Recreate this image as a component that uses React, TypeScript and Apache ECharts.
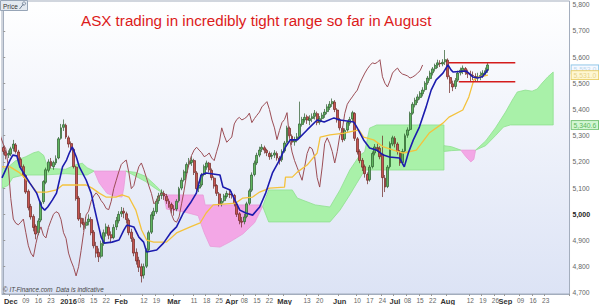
import React, { useEffect, useRef } from "react";
import * as echarts from "echarts";

const TITLE = "ASX trading in incredibly tight range so far in August";
const COPYRIGHT = "© IT-Finance.com  Data is indicative";
const PANEL_LABEL = "Price";

const FIRST_DAY = "2015-11-26";
const DAY_COUNT = 226;

// [date, label, isMonth]
const X_LABELS: [string, string, boolean][] = [
  ["2015-12-01", "Dec", true], ["2015-12-09", "09", false], ["2015-12-16", "16", false], ["2015-12-23", "23", false],
  ["2016-01-01", "2016", true], ["2016-01-08", "08", false], ["2016-01-15", "15", false], ["2016-01-22", "22", false],
  ["2016-02-01", "Feb", true], ["2016-02-12", "12", false], ["2016-02-19", "19", false],
  ["2016-03-01", "Mar", true], ["2016-03-11", "11", false], ["2016-03-18", "18", false], ["2016-03-25", "25", false],
  ["2016-04-01", "Apr", true], ["2016-04-08", "08", false], ["2016-04-15", "15", false], ["2016-04-22", "22", false],
  ["2016-05-02", "May", true], ["2016-05-13", "13", false], ["2016-05-20", "20", false],
  ["2016-06-01", "Jun", true], ["2016-06-10", "10", false], ["2016-06-17", "17", false], ["2016-06-24", "24", false],
  ["2016-07-01", "Jul", true], ["2016-07-08", "08", false], ["2016-07-15", "15", false], ["2016-07-22", "22", false],
  ["2016-08-01", "Aug", true], ["2016-08-12", "12", false], ["2016-08-19", "19", false], ["2016-08-26", "26", false],
  ["2016-09-01", "Sep", true], ["2016-09-09", "09", false], ["2016-09-16", "16", false], ["2016-09-23", "23", false],
];

const Y_TICKS = [4700, 4800, 4900, 5000, 5100, 5200, 5300, 5400, 5500, 5600, 5700, 5800];

// daily candles: [open, close, low, high]
const OHLC: number[][] = [
  [5255, 5240, 5228, 5262], [5238, 5225, 5210, 5245], [5226, 5232, 5215, 5244], [5230, 5250, 5222, 5258], [5252, 5268, 5240, 5284],
  [5265, 5240, 5232, 5272], [5238, 5212, 5200, 5246], [5210, 5180, 5172, 5218], [5182, 5150, 5140, 5190], [5148, 5085, 5078, 5152],
  [5088, 5025, 5015, 5095], [5030, 4990, 4980, 5040], [4992, 4950, 4935, 5000], [4955, 4925, 4905, 4962], [4930, 4975, 4920, 4985],
  [4978, 5045, 4970, 5052], [5048, 5125, 5040, 5130], [5122, 5170, 5115, 5178], [5168, 5200, 5160, 5210], [5202, 5185, 5175, 5215],
  [5182, 5198, 5170, 5205], [5196, 5212, 5188, 5225], [5215, 5288, 5210, 5295], [5290, 5330, 5285, 5345], [5332, 5342, 5318, 5362],
  [5340, 5295, 5288, 5346], [5292, 5268, 5255, 5300], [5270, 5250, 5240, 5278], [5248, 5182, 5175, 5252], [5180, 5060, 5052, 5185],
  [5062, 4982, 4975, 5070], [4985, 4966, 4950, 5005], [4968, 4960, 4940, 4985], [4958, 4970, 4945, 4990], [4972, 4982, 4958, 5000],
  [4980, 4930, 4920, 4990], [4932, 4880, 4870, 4940], [4878, 4852, 4835, 4895], [4855, 4838, 4818, 4870], [4840, 4888, 4832, 4900],
  [4890, 4930, 4880, 4942], [4928, 4952, 4915, 4965], [4950, 4920, 4905, 4960], [4922, 4910, 4890, 4935], [4912, 4950, 4905, 4962],
  [4952, 4976, 4940, 4990], [4975, 5000, 4965, 5012], [5002, 5010, 4990, 5028], [5012, 5005, 4985, 5025], [5002, 4980, 4965, 5010],
  [4978, 4930, 4920, 4985], [4932, 4908, 4895, 4945], [4905, 4852, 4840, 4912], [4855, 4822, 4808, 4870], [4825, 4798, 4780, 4838],
  [4800, 4765, 4740, 4812], [4768, 4800, 4755, 4812], [4802, 4862, 4795, 4870], [4865, 4930, 4858, 4938], [4932, 4998, 4925, 5008],
  [4995, 5012, 4980, 5025], [5010, 5050, 5002, 5060], [5052, 5070, 5040, 5082], [5072, 5082, 5058, 5095], [5080, 5070, 5055, 5090],
  [5068, 5052, 5040, 5078], [5050, 5040, 5025, 5060], [5038, 5022, 5005, 5045], [5020, 5018, 4995, 5035], [5020, 5050, 5012, 5058],
  [5052, 5098, 5045, 5105], [5100, 5130, 5092, 5140], [5132, 5162, 5125, 5170], [5160, 5190, 5152, 5198], [5192, 5200, 5180, 5215],
  [5198, 5207, 5185, 5222], [5205, 5160, 5150, 5212], [5158, 5098, 5090, 5165], [5100, 5110, 5085, 5125], [5112, 5150, 5105, 5158],
  [5152, 5182, 5145, 5190], [5180, 5196, 5170, 5205], [5195, 5170, 5160, 5200], [5168, 5140, 5130, 5175], [5138, 5108, 5098, 5145],
  [5110, 5080, 5070, 5115], [5078, 5040, 5030, 5085], [5042, 5050, 5030, 5062], [5052, 5070, 5045, 5078], [5068, 5080, 5060, 5090],
  [5078, 5076, 5062, 5092], [5076, 5074, 5060, 5088], [5072, 5040, 5030, 5078], [5038, 5000, 4990, 5045], [5002, 4976, 4962, 5008],
  [4974, 4970, 4950, 4990], [4972, 4990, 4962, 5002], [4992, 5040, 4985, 5048], [5042, 5090, 5035, 5098], [5092, 5150, 5085, 5160],
  [5152, 5195, 5145, 5205], [5196, 5225, 5188, 5235], [5226, 5245, 5218, 5258], [5248, 5256, 5238, 5268], [5254, 5245, 5232, 5262],
  [5244, 5235, 5222, 5250], [5232, 5220, 5208, 5240], [5222, 5225, 5210, 5236], [5226, 5234, 5215, 5245], [5232, 5215, 5205, 5240],
  [5214, 5205, 5190, 5222], [5208, 5240, 5200, 5248], [5242, 5272, 5235, 5280], [5275, 5330, 5270, 5338], [5328, 5300, 5290, 5335],
  [5298, 5275, 5265, 5305], [5276, 5285, 5262, 5296], [5288, 5295, 5275, 5310], [5297, 5345, 5290, 5430], [5343, 5362, 5335, 5372],
  [5360, 5370, 5350, 5385], [5372, 5360, 5345, 5380], [5358, 5365, 5340, 5378], [5366, 5372, 5352, 5385], [5374, 5386, 5362, 5398],
  [5384, 5350, 5340, 5392], [5352, 5365, 5342, 5375], [5366, 5378, 5355, 5388], [5380, 5390, 5368, 5402], [5392, 5410, 5382, 5420],
  [5408, 5420, 5398, 5432], [5422, 5430, 5410, 5442], [5428, 5400, 5390, 5436], [5398, 5360, 5350, 5405], [5362, 5330, 5320, 5368],
  [5328, 5285, 5275, 5335], [5288, 5320, 5280, 5328], [5322, 5350, 5315, 5358], [5348, 5362, 5338, 5372], [5364, 5388, 5355, 5395],
  [5385, 5290, 5280, 5390], [5288, 5238, 5228, 5295], [5240, 5205, 5195, 5248], [5206, 5180, 5165, 5215], [5182, 5155, 5140, 5190],
  [5152, 5130, 5115, 5160], [5132, 5180, 5125, 5188], [5182, 5232, 5175, 5240], [5234, 5257, 5225, 5268], [5255, 5250, 5238, 5270],
  [5252, 5220, 5210, 5260], [5230, 5140, 5066, 5300], [5138, 5104, 5085, 5150], [5106, 5180, 5100, 5188], [5182, 5270, 5175, 5278],
  [5268, 5292, 5260, 5300], [5290, 5270, 5255, 5298], [5268, 5240, 5228, 5275], [5238, 5196, 5185, 5245], [5198, 5240, 5190, 5250],
  [5242, 5300, 5235, 5308], [5302, 5322, 5292, 5332], [5324, 5385, 5318, 5392], [5386, 5420, 5380, 5428], [5418, 5435, 5408, 5445],
  [5436, 5448, 5425, 5458], [5446, 5462, 5438, 5470], [5460, 5474, 5450, 5485], [5476, 5500, 5468, 5508], [5502, 5520, 5494, 5528],
  [5518, 5539, 5510, 5548], [5540, 5555, 5530, 5562], [5556, 5568, 5545, 5575], [5570, 5578, 5558, 5590], [5576, 5575, 5562, 5588],
  [5574, 5580, 5565, 5592], [5582, 5590, 5570, 5627], [5588, 5525, 5515, 5595], [5522, 5500, 5463, 5530], [5498, 5486, 5470, 5510],
  [5488, 5510, 5478, 5520], [5512, 5539, 5505, 5548], [5540, 5550, 5530, 5560], [5548, 5558, 5535, 5568], [5556, 5543, 5532, 5562],
  [5542, 5535, 5520, 5552], [5534, 5532, 5505, 5548], [5530, 5528, 5512, 5545], [5526, 5520, 5505, 5538], [5522, 5524, 5508, 5540],
  [5525, 5530, 5512, 5545], [5532, 5539, 5520, 5550], [5540, 5548, 5528, 5560], [5550, 5569.9, 5540, 5578],
];

// conversion line (9 period), [day index, value]
const TENKAN: number[][] = [
  [-0.5, 5139], [2.7, 5207], [3.8, 5226], [5.4, 5223], [6.6, 5181], [8.6, 5150], [10.6, 5119], [13.3, 5081], [15.3, 5028],
  [16.5, 5016], [17.7, 5028], [19.6, 5055], [21.2, 5081], [22.4, 5131], [23.6, 5181], [25.2, 5207], [26.3, 5234], [27.5, 5257],
  [29.1, 5219], [30.3, 5181], [33.0, 5131], [35.0, 5081], [36.2, 5028], [37.4, 4978], [39.0, 4913], [40.2, 4890], [43.3, 4894],
  [46.1, 4902], [48.0, 4940], [49.2, 4959], [52.0, 4952], [54.0, 4913], [55.9, 4894], [57.1, 4856], [61.1, 4864], [63.8, 4890],
  [66.6, 4929], [69.0, 4952], [71.7, 5005], [74.5, 5043], [76.9, 5081], [78.8, 5150], [80.8, 5158], [86.3, 5150], [87.5, 5104],
  [90.3, 5093], [92.2, 5055], [94.2, 5016], [96.6, 5005], [99.3, 4997], [102.1, 5028], [104.5, 5081], [107.2, 5158], [110.0, 5207],
  [112.4, 5257], [114.3, 5284], [117.1, 5284], [121.0, 5322], [125.0, 5360], [127.8, 5352], [131.7, 5368], [134.1, 5360],
  [139.6, 5352], [140.8, 5333], [143.5, 5284], [145.9, 5253], [148.7, 5245], [151.4, 5226], [153.8, 5219], [157.8, 5215],
  [159.7, 5181], [161.3, 5234], [163.3, 5284], [165.7, 5333], [168.4, 5410], [170.4, 5474], [172.4, 5513], [175.1, 5539],
  [177.1, 5570], [178.3, 5551], [179.1, 5543], [184.2, 5547], [185.4, 5539], [187.0, 5524], [188.9, 5520], [190.9, 5526], [193.0, 5553],
];

// base line (26 period)
const KIJUN: number[][] = [
  [-0.5, 5181], [2.7, 5181], [6.6, 5158], [10.6, 5119], [13.3, 5085], [17.3, 5085], [21.2, 5093], [23.6, 5112], [33.0, 5112],
  [35.4, 5100], [38.2, 5081], [40.9, 5066], [44.9, 5066], [47.3, 5074], [50.0, 5066], [52.8, 5016], [55.1, 4940], [57.1, 4902],
  [59.9, 4894], [65.0, 4894], [69.0, 4929], [74.5, 4952], [78.4, 4967], [80.8, 5005], [83.6, 5036], [92.6, 5043], [95.4, 5062],
  [99.3, 5066], [102.1, 5085], [106.1, 5100], [112.0, 5104], [112.4, 5142], [115.1, 5142], [117.1, 5161], [121.0, 5188],
  [125.0, 5234], [126.2, 5295], [130.1, 5303], [135.7, 5310], [141.6, 5322], [143.5, 5295], [147.5, 5284], [151.4, 5257],
  [155.4, 5245], [159.3, 5234], [164.5, 5245], [169.6, 5310], [175.1, 5348], [177.5, 5371], [183.0, 5398], [185.4, 5448],
  [187.4, 5513], [189.3, 5524], [193.0, 5531],
];

// leading spans, drawn as filled segments: up = span A above span B
const CLOUD: { kind: "up" | "down"; top: number[][]; bottom: number[][] }[] = [
  {
    kind: "up",
    top: [[-0.5, 5172], [1.9, 5180], [5.0, 5205], [9.0, 5220], [12.1, 5235], [14.1, 5240], [16.1, 5225], [17.3, 5190], [18.4, 5175],
      [24.8, 5172], [29.1, 5190], [31.5, 5195], [33.4, 5178], [36.2, 5165]],
    bottom: [[-0.5, 5100], [1.9, 5110], [3.8, 5140], [8.2, 5150], [16.1, 5150], [24.8, 5155], [33.4, 5150], [36.2, 5165]],
  },
  {
    kind: "down",
    top: [[36.2, 5165], [48.8, 5165]],
    bottom: [[36.2, 5165], [38.2, 5120], [41.3, 5080], [44.1, 5070], [47.3, 5066], [48.0, 5100], [48.8, 5165]],
  },
  {
    kind: "up",
    top: [[48.8, 5165], [52.8, 5160], [56.7, 5145], [60.7, 5110], [63.8, 5080]],
    bottom: [[48.8, 5165], [52.8, 5145], [56.7, 5125], [60.7, 5098], [63.8, 5080]],
  },
  {
    kind: "down",
    top: [[63.8, 5080], [65.0, 5074], [79.6, 5074], [80.4, 5036], [102.5, 5036], [103.3, 5030]],
    bottom: [[63.8, 5080], [65.0, 5020], [71.7, 5010], [77.6, 4995], [80.0, 4930], [82.4, 4878], [86.3, 4875], [90.3, 4895],
      [95.4, 4925], [100.1, 4968], [103.3, 5030]],
  },
  {
    kind: "up",
    top: [[103.3, 5030], [105.7, 5093], [115.1, 5093], [117.1, 5062], [124.2, 5036], [130.1, 5028], [134.1, 5093], [138.0, 5169],
      [142.0, 5226], [143.9, 5238], [145.9, 5329], [148.7, 5341], [175.5, 5341]],
    bottom: [[103.3, 5030], [105.7, 4971], [130.1, 4971], [134.1, 5016], [138.0, 5074], [140.8, 5119], [143.5, 5161], [144.7, 5169],
      [175.5, 5169]],
  },
  {
    kind: "up",
    top: [[175.5, 5262], [178.5, 5258], [182.2, 5245]],
    bottom: [[175.5, 5240], [178.5, 5243], [182.2, 5245]],
  },
  {
    kind: "down",
    top: [[182.2, 5245], [188.1, 5245]],
    bottom: [[182.2, 5245], [184.2, 5220], [186.2, 5200], [187.4, 5210], [188.1, 5245]],
  },
  {
    kind: "up",
    top: [[188.1, 5245], [192.1, 5280], [196.0, 5330], [200.0, 5390], [202.7, 5436], [204.7, 5467], [207.9, 5474], [210.6, 5470],
      [212.6, 5478], [214.6, 5501], [216.9, 5525], [219.0, 5543]],
    bottom: [[188.1, 5245], [192.1, 5262], [196.0, 5300], [199.2, 5333], [201.9, 5341], [219.0, 5341]],
  },
];

const RANGE_HIGH: number[][] = [[177.5, 5578], [203.9, 5578]];
const RANGE_LOW: number[][] = [[181.4, 5506], [203.9, 5506]];

// last-value tags on the price scale
const LAST_TAGS: { value: number; style: string }[] = [
  { value: 5569.9, style: "close" },
  { value: 5553.0, style: "tenkan" },
  { value: 5531.0, style: "kijun" },
  { value: 5340.6, style: "cloud" },
];

function tradingDays(start: string, count: number): string[] {
  const out: string[] = [];
  const d = new Date(start + "T00:00:00Z");
  while (out.length < count) {
    const wd = d.getUTCDay();
    if (wd !== 0 && wd !== 6) out.push(d.toISOString().slice(0, 10));
    d.setUTCDate(d.getUTCDate() + 1);
  }
  return out;
}

const FONT = "'Liberation Sans', Arial, sans-serif";

function fmt(v: number, dec = 0) {
  return v.toLocaleString("en-US", { minimumFractionDigits: dec, maximumFractionDigits: dec });
}

export default function App() {
  const ref = useRef<HTMLDivElement>(null);
  useEffect(() => {
    document.body.style.margin = "0";
    const chart = echarts.init(ref.current!, undefined, { renderer: "svg" });
    const days = tradingDays(FIRST_DAY, DAY_COUNT);
    const labelMap: Record<string, [string, boolean]> = {};
    X_LABELS.forEach(([d, l, m]) => (labelMap[d] = [l, m]));
    const closes = OHLC.map((r, k) => [k, r[1]]);
    const yMin = 4696;
    const yMax = 5814;

    const option: any = {
      animation: false,
      textStyle: { fontFamily: FONT },
      grid: {
        left: 2,
        right: 27.3,
        top: 1,
        bottom: 11,
        show: true,
        borderColor: "#a3adbd",
        borderWidth: 1,
        backgroundColor: new echarts.graphic.LinearGradient(0, 0, 0, 1, [
          { offset: 0, color: "#ffffff" },
          { offset: 1, color: "#dce3f5" },
        ]),
      },
      xAxis: [
        {
          type: "category",
          data: days,
          boundaryGap: true,
          axisLine: { show: true, lineStyle: { color: "#a3adbd" } },
          axisTick: {
            show: true,
            length: 2,
            interval: (_i: number, v: string) => !!labelMap[v],
            lineStyle: { color: "#999" },
          },
          axisLabel: {
            margin: 3,
            interval: (_i: number, v: string) => !!labelMap[v],
            formatter: (v: string) => {
              const e = labelMap[v];
              if (!e) return "";
              return e[1] ? `{m|${e[0]}}` : `{d|${e[0]}}`;
            },
            rich: {
              m: { fontSize: 7.5, fontWeight: "bold", color: "#333", fontFamily: FONT },
              d: { fontSize: 6.5, color: "#666", fontFamily: FONT },
            },
          },
          splitLine: { show: false },
        },
        { type: "value", min: -0.5, max: DAY_COUNT - 0.5, show: false },
        { type: "value", min: 25.5, max: DAY_COUNT + 25.5, show: false },
      ],
      yAxis: [
        {
          type: "value",
          position: "right",
          min: yMin,
          max: yMax,
          axisLine: { show: true, lineStyle: { color: "#a3adbd" } },
          axisTick: { show: true, length: 2, customValues: Y_TICKS, lineStyle: { color: "#999" } },
          splitLine: { show: false },
          axisLabel: {
            margin: 3,
            customValues: Y_TICKS,
            formatter: (v: number) => (v === 5000 ? `{b|${fmt(v)}}` : `{n|${fmt(v)}}`),
            rich: {
              n: { fontSize: 6.8, color: "#666", fontFamily: FONT },
              b: { fontSize: 7, fontWeight: "bold", color: "#222", fontFamily: FONT },
            },
          },
        },
        {
          type: "value",
          position: "right",
          min: yMin,
          max: yMax,
          axisLine: { show: false },
          axisTick: { show: false },
          splitLine: { show: false },
          axisLabel: {
            margin: 2,
            customValues: LAST_TAGS.map((t) => t.value),
            formatter: (v: number) => {
              const t = LAST_TAGS.find((x) => Math.abs(x.value - v) < 0.01);
              return t ? `{${t.style}|${fmt(v, 1)}}` : "";
            },
            rich: {
              close: { fontSize: 6.8, color: "#222", backgroundColor: "#f1c817", borderColor: "#b99a10", borderWidth: 0.8, padding: [1, 2, 0, 2], fontFamily: FONT },
              tenkan: { fontSize: 6.8, color: "#bcd8ee", backgroundColor: "#f6f9ff", borderColor: "#86c2e6", borderWidth: 0.8, padding: [1, 2, 0, 2], fontFamily: FONT },
              kijun: { fontSize: 6.8, color: "#e6d48c", backgroundColor: "#fff7d2", borderColor: "#e8cc62", borderWidth: 0.8, padding: [1, 2, 0, 2], fontFamily: FONT },
              cloud: { fontSize: 6.8, color: "#5cb85c", backgroundColor: "#d2f6d2", borderColor: "#5cb85c", borderWidth: 0.8, padding: [1, 2, 0, 2], fontFamily: FONT },
            },
          },
        },
      ],
      series: [
        {
          type: "custom",
          name: "Cloud",
          xAxisIndex: 1,
          yAxisIndex: 0,
          clip: true,
          silent: true,
          z: 1,
          data: CLOUD.map((_s, i) => [i, 5000]),
          encode: { x: 0, y: 1 },
          renderItem: (params: any, api: any) => {
            const seg = CLOUD[params.dataIndex];
            const pts = seg.top.map((p) => api.coord(p)).concat(seg.bottom.slice().reverse().map((p) => api.coord(p)));
            const up = seg.kind === "up";
            return {
              type: "polygon",
              shape: { points: pts },
              style: { fill: up ? "#a9f1a9" : "#f3a7e6", stroke: up ? "#8fe08f" : "#e89ad8", lineWidth: 0.8 },
            };
          },
        },
        {
          type: "candlestick",
          name: "ASX",
          xAxisIndex: 0,
          yAxisIndex: 0,
          z: 3,
          barWidth: 2.4,
          data: OHLC,
          itemStyle: {
            color: "#5fb55f",
            color0: "#c65450",
            borderColor: "#2b5a2b",
            borderColor0: "#6b2420",
            borderWidth: 0.7,
          },
        },
        {
          type: "line",
          name: "Lagging",
          xAxisIndex: 2,
          yAxisIndex: 0,
          z: 4,
          showSymbol: false,
          data: closes,
          lineStyle: { color: "#9b4d55", width: 1 },
        },
        {
          type: "line",
          name: "Base",
          xAxisIndex: 1,
          yAxisIndex: 0,
          z: 5,
          showSymbol: false,
          data: KIJUN,
          lineStyle: { color: "#f4c23c", width: 1.3 },
        },
        {
          type: "line",
          name: "Conversion",
          xAxisIndex: 1,
          yAxisIndex: 0,
          z: 6,
          showSymbol: false,
          data: TENKAN,
          lineStyle: { color: "#1c1cae", width: 1.6 },
        },
        {
          type: "line",
          name: "Range high",
          xAxisIndex: 1,
          yAxisIndex: 0,
          z: 7,
          showSymbol: false,
          data: RANGE_HIGH,
          lineStyle: { color: "#d41c1c", width: 1.5 },
        },
        {
          type: "line",
          name: "Range low",
          xAxisIndex: 1,
          yAxisIndex: 0,
          z: 7,
          showSymbol: false,
          data: RANGE_LOW,
          lineStyle: { color: "#d41c1c", width: 1.5 },
        },
      ],
      graphic: [
        {
          type: "text",
          left: 81,
          top: 13,
          z: 10,
          style: { text: TITLE, fill: "#dc1a1a", font: `15.2px ${FONT}` },
        },
        {
          type: "rect",
          shape: { x: 0.5, y: 0.5, width: 27, height: 10 },
          z: 10,
          style: { fill: "#e3e9f0", stroke: "#97a5b7", lineWidth: 1 },
        },
        {
          type: "text",
          x: 3,
          y: 6,
          z: 11,
          style: { text: PANEL_LABEL, fill: "#333", font: `6.5px ${FONT}`, textVerticalAlign: "middle" },
        },
        {
          type: "line",
          z: 11,
          shape: { x1: 19.5, y1: 9, x2: 23.5, y2: 4 },
          style: { stroke: "#6a7a90", lineWidth: 1 },
        },
        {
          type: "circle",
          z: 11,
          shape: { cx: 24, cy: 3.5, r: 1.6 },
          style: { fill: "none", stroke: "#6a7a90", lineWidth: 0.8 },
        },
        {
          type: "text",
          x: 3,
          y: 289.5,
          z: 10,
          style: { text: COPYRIGHT, fill: "#444", font: `italic 6.3px ${FONT}`, textVerticalAlign: "middle" },
        },
      ],
    };
    chart.setOption(option);
    return () => chart.dispose();
  }, []);
  return <div ref={ref} style={{ width: 602, height: 305 }} />;
}
